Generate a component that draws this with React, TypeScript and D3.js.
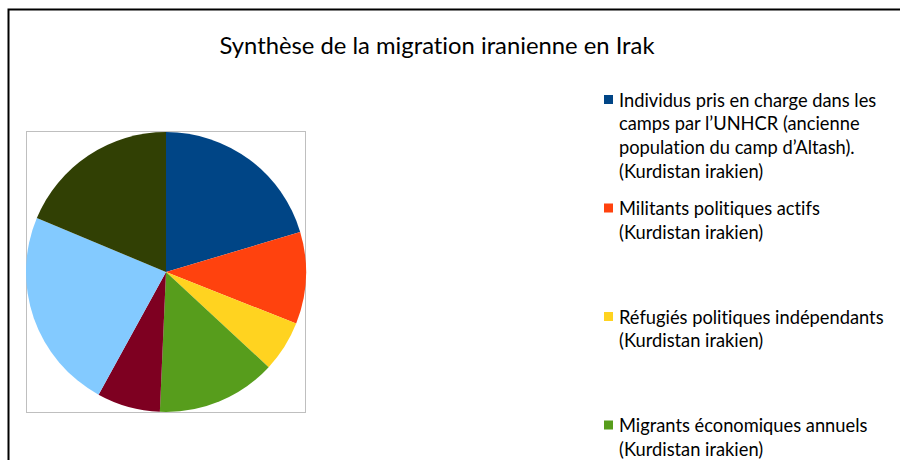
import React from "react";
import * as d3 from "d3";

const title = "Synthèse de la migration iranienne en Irak";
const categories = [
  "Individus pris en charge dans les camps par l’UNHCR (ancienne population du camp d’Altash). (Kurdistan irakien)",
  "Militants politiques actifs (Kurdistan irakien)",
  "Réfugiés politiques indépendants (Kurdistan irakien)",
  "Migrants économiques annuels (Kurdistan irakien)",
  "Série 5",
  "Série 6",
  "Série 7",
];
const values = [20.4, 10.6, 5.9, 13.8, 7.3, 23.3, 18.7];
const colors = ["#004586", "#ff420e", "#ffd320", "#579d1c", "#7e0021", "#83caff", "#314004"];
const legendLines = [
  ["Individus pris en charge dans les", "camps par l’UNHCR (ancienne", "population du camp d’Altash).", "(Kurdistan irakien)"],
  ["Militants politiques actifs", "(Kurdistan irakien)"],
  ["Réfugiés politiques indépendants", "(Kurdistan irakien)"],
  ["Migrants économiques annuels", "(Kurdistan irakien)"],
];

const FONT = "Lato, 'Open Sans', sans-serif";

export default function App() {
  const cx = 166, cy = 272, r = 140;
  const pie = d3.pie<number>().sort(null).value((d) => d);
  const arcs = pie(values);
  const arc = d3.arc<d3.PieArcDatum<number>>().innerRadius(0).outerRadius(r);
  const legendY = d3.scaleLinear().domain([0, 1]).range([100, 208.5]);
  const txtStyle = { fontVariantLigatures: "none" as const };
  return (
    <svg width={900} height={460} style={{ position: "absolute", left: 0, top: 0, background: "#fff" }}>
      <rect x={0} y={0} width={900} height={460} fill="#fff" />
      <path d="M8.5,470 V9.5 H905" fill="none" stroke="#000" strokeWidth={2} />
      <text x={437} y={54} textAnchor="middle" fontFamily={FONT} fontSize={23.8} fill="#000" style={txtStyle}>{title}</text>
      <rect x={26.5} y={131.5} width={279} height={281} fill="#fff" stroke="#bfbfbf" strokeWidth={1} />
      <g transform={`translate(${cx},${cy})`}>
        {arcs.map((a, i) => (
          <path key={categories[i]} d={arc(a) || ""} fill={colors[i]} />
        ))}
      </g>
      {legendLines.map((lines, i) => {
        const y = legendY(i);
        return (
          <g key={i}>
            <rect x={604} y={y - 5} width={9} height={9} fill={colors[i]} />
            {lines.map((l, j) => (
              <text key={j} x={619} y={y + 6.5 + j * 23.7} fontFamily={FONT} fontSize={18.3} fill="#000" style={txtStyle}>{l}</text>
            ))}
          </g>
        );
      })}
    </svg>
  );
}
